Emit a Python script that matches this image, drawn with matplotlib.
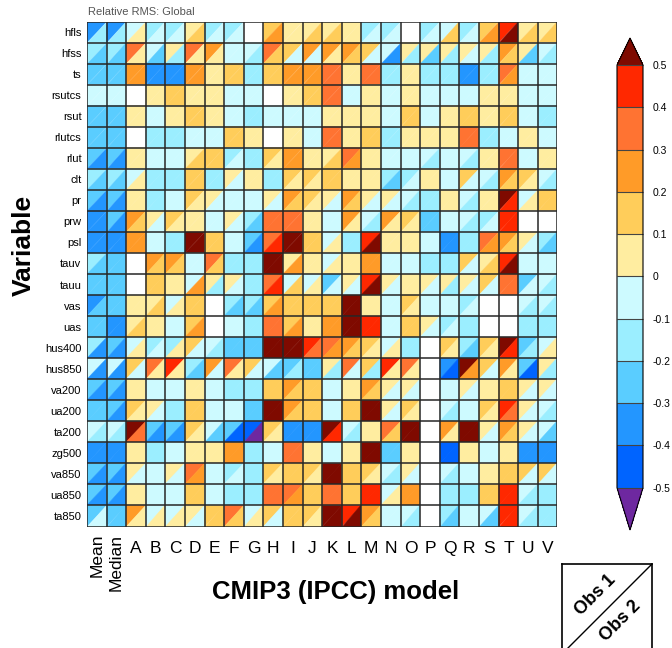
import numpy as np
import matplotlib
matplotlib.use('Agg')
import matplotlib.pyplot as plt
from matplotlib.collections import PolyCollection
from matplotlib.colors import ListedColormap, BoundaryNorm

# Fuente parecida a Helvetica/Arial
plt.rcParams['font.family'] = ['Liberation Sans', 'DejaVu Sans']

nan = np.nan

variables = ['hfls', 'hfss', 'ts', 'rsutcs', 'rsut', 'rlutcs', 'rlut', 'clt', 'pr', 'prw',
             'psl', 'tauv', 'tauu', 'vas', 'uas', 'hus400', 'hus850', 'va200', 'ua200',
             'ta200', 'zg500', 'va850', 'ua850', 'ta850']
modelos = ['Mean', 'Median', 'A', 'B', 'C', 'D', 'E', 'F', 'G', 'H', 'I', 'J', 'K', 'L',
           'M', 'N', 'O', 'P', 'Q', 'R', 'S', 'T', 'U', 'V']

niveles = [-0.5, -0.4, -0.3, -0.2, -0.1, 0.0, 0.1, 0.2, 0.3, 0.4, 0.5]
etiquetas_barra = ['-0.5', '-0.4', '-0.3', '-0.2', '-0.1', '0', '0.1', '0.2', '0.3', '0.4', '0.5']
colores = ['#0064ff', '#2396ff', '#5acdff', '#9beeff', '#cdfaff',
           '#ffeda0', '#ffcd5a', '#ff9b28', '#ff7332', '#ff2800']
color_bajo = '#6e28a0'
color_alto = '#7f0a00'

# Error RMS relativo, triangulo superior izquierdo (Obs 1)
obs1 = [
    [-0.35, -0.35, -0.05, -0.15, -0.15, 0.05, -0.15, -0.15, nan, 0.15, 0.05, 0.05, 0.05, 0.05, -0.15, -0.15, nan, -0.15, -0.05, -0.15, 0.15, 0.45, 0.05, 0.05],
    [-0.15, -0.15, 0.35, -0.05, 0.05, 0.35, 0.25, -0.05, -0.05, 0.35, 0.15, 0.25, 0.25, 0.25, 0.15, -0.05, 0.05, 0.05, 0.05, 0.05, 0.05, 0.25, 0.05, -0.05],
    [-0.25, -0.25, 0.25, -0.35, -0.35, 0.25, 0.05, 0.15, -0.15, 0.15, 0.25, 0.25, 0.35, 0.05, 0.35, -0.15, 0.05, -0.15, -0.15, -0.35, -0.15, 0.35, -0.05, -0.05],
    [-0.05, -0.05, nan, 0.05, 0.15, 0.05, 0.05, -0.05, -0.05, nan, 0.05, 0.15, 0.35, -0.05, 0.05, -0.05, 0.05, -0.05, -0.05, -0.05, 0.05, 0.05, -0.05, -0.05],
    [-0.25, -0.25, 0.05, -0.05, 0.05, 0.15, 0.05, -0.05, -0.15, -0.05, -0.05, -0.05, 0.05, 0.05, 0.05, -0.05, 0.15, -0.05, 0.05, 0.15, 0.05, 0.15, -0.05, -0.15],
    [-0.25, -0.25, nan, -0.15, -0.15, -0.05, -0.05, 0.15, 0.05, nan, 0.05, -0.05, 0.35, 0.05, 0.15, -0.15, 0.05, 0.05, 0.05, 0.35, -0.15, -0.05, 0.05, -0.05],
    [-0.25, -0.25, 0.05, -0.05, -0.05, 0.05, 0.15, -0.15, -0.15, 0.15, 0.25, 0.05, 0.05, 0.35, 0.05, -0.05, -0.05, -0.05, -0.05, -0.05, 0.05, 0.35, -0.05, 0.05],
    [-0.15, -0.15, -0.05, -0.15, -0.15, 0.15, -0.15, 0.05, 0.05, -0.15, 0.15, 0.15, 0.15, 0.05, 0.05, -0.15, -0.15, 0.05, -0.05, 0.15, -0.05, 0.25, 0.15, -0.05],
    [-0.25, -0.25, 0.05, -0.15, -0.05, 0.15, 0.05, -0.05, -0.05, 0.05, 0.25, 0.15, 0.05, 0.25, 0.05, 0.05, -0.05, -0.15, 0.05, -0.05, 0.05, 0.60, -0.05, 0.15],
    [-0.35, -0.25, 0.25, 0.05, 0.15, 0.05, -0.05, 0.05, -0.15, 0.35, 0.35, 0.05, -0.05, 0.25, -0.05, 0.25, 0.15, -0.25, -0.05, -0.05, -0.15, 0.45, nan, nan],
    [-0.35, -0.35, 0.25, -0.05, -0.15, 0.60, 0.15, -0.05, -0.25, 0.35, 0.60, 0.15, -0.05, -0.15, 0.45, 0.05, 0.05, -0.05, -0.35, -0.15, 0.35, 0.25, 0.05, -0.15],
    [-0.15, -0.25, nan, 0.25, 0.25, -0.05, 0.35, -0.15, -0.15, 0.60, 0.05, 0.05, -0.05, 0.05, 0.25, -0.05, -0.05, -0.15, -0.15, 0.15, 0.05, 0.45, -0.05, -0.05],
    [-0.25, -0.25, nan, 0.15, 0.05, -0.05, 0.05, 0.05, -0.15, 0.35, -0.05, -0.05, -0.25, 0.05, 0.45, 0.05, 0.05, 0.05, 0.05, 0.05, 0.15, 0.35, -0.25, -0.05],
    [-0.35, -0.25, 0.05, 0.05, -0.05, 0.15, nan, -0.15, -0.15, 0.15, 0.15, 0.15, 0.15, 0.60, 0.05, -0.05, 0.15, -0.05, -0.05, -0.15, nan, nan, -0.05, -0.05],
    [-0.25, -0.35, 0.05, 0.05, -0.05, 0.15, nan, -0.05, -0.15, 0.35, 0.15, 0.05, 0.25, 0.60, 0.45, -0.05, 0.15, 0.05, -0.15, -0.15, nan, nan, -0.15, -0.15],
    [-0.15, -0.25, -0.05, -0.15, -0.15, 0.15, -0.05, -0.25, -0.25, 0.60, 0.60, 0.45, 0.35, 0.25, 0.15, -0.05, -0.15, nan, 0.15, -0.15, 0.15, 0.60, -0.25, -0.05],
    [-0.05, -0.05, 0.15, 0.35, 0.45, -0.15, 0.25, 0.35, 0.15, -0.05, -0.25, -0.25, 0.05, 0.35, 0.15, 0.45, 0.35, nan, -0.35, 0.60, 0.15, 0.25, -0.25, 0.05],
    [-0.25, -0.25, 0.05, -0.05, -0.05, 0.05, -0.05, -0.15, -0.15, 0.15, 0.25, 0.15, -0.05, 0.05, 0.25, 0.05, 0.05, nan, -0.05, 0.05, 0.05, 0.15, 0.05, 0.05],
    [-0.25, -0.25, 0.15, 0.05, -0.15, 0.15, -0.05, -0.05, -0.25, 0.60, 0.25, 0.15, -0.05, 0.15, 0.60, 0.05, 0.15, nan, -0.05, -0.05, 0.15, 0.45, 0.05, -0.05],
    [-0.05, -0.05, 0.60, -0.25, -0.25, 0.15, -0.05, -0.25, -0.45, 0.15, -0.35, -0.35, 0.60, -0.05, 0.05, 0.35, 0.60, nan, 0.25, 0.60, 0.05, 0.25, 0.05, -0.05],
    [-0.35, -0.35, 0.05, -0.15, -0.05, 0.05, 0.05, 0.25, -0.15, -0.05, 0.35, 0.05, -0.05, 0.05, 0.60, -0.25, 0.05, nan, -0.45, 0.05, -0.05, 0.05, -0.35, -0.35],
    [-0.25, -0.25, 0.05, -0.05, 0.05, 0.35, -0.05, -0.15, -0.15, 0.15, 0.15, 0.15, 0.60, 0.15, 0.15, -0.05, 0.05, nan, -0.05, -0.05, 0.05, 0.15, 0.15, 0.15],
    [-0.25, -0.25, 0.05, -0.05, -0.05, 0.15, -0.05, -0.15, -0.15, 0.35, 0.35, 0.15, 0.35, 0.15, 0.45, -0.05, 0.25, nan, -0.15, -0.15, 0.15, 0.45, -0.05, -0.15],
    [-0.25, -0.25, 0.25, -0.05, -0.05, 0.05, 0.15, 0.35, -0.05, 0.15, 0.15, 0.15, 0.60, 0.45, 0.25, -0.05, -0.05, nan, -0.15, -0.05, -0.05, 0.45, -0.05, -0.15],
]

# Error RMS relativo, triangulo inferior derecho (Obs 2)
obs2 = [
    [-0.15, -0.15, 0.05, -0.05, -0.05, 0.15, -0.05, -0.05, nan, 0.25, 0.05, 0.15, 0.15, 0.05, -0.05, -0.05, nan, -0.05, 0.15, -0.05, 0.25, 0.60, 0.15, 0.15],
    [-0.25, -0.25, 0.05, -0.25, -0.15, 0.05, 0.05, -0.05, -0.15, 0.15, -0.05, -0.05, 0.05, 0.15, -0.05, -0.35, -0.15, -0.25, -0.15, -0.05, -0.15, 0.15, -0.25, -0.15],
    [-0.25, -0.25, 0.25, -0.35, -0.35, 0.25, 0.05, 0.15, -0.15, 0.15, 0.25, 0.25, 0.35, 0.05, 0.35, -0.15, 0.05, -0.15, -0.15, -0.35, -0.15, 0.25, -0.05, -0.05],
    [-0.05, -0.05, nan, 0.05, 0.15, 0.05, 0.05, -0.05, -0.05, nan, 0.05, 0.15, 0.35, -0.05, 0.05, -0.05, 0.05, -0.05, -0.05, -0.05, 0.05, 0.05, -0.05, -0.05],
    [-0.25, -0.25, 0.05, -0.05, 0.05, 0.15, 0.05, -0.05, -0.15, -0.05, -0.05, -0.05, 0.05, 0.05, 0.05, -0.05, 0.15, -0.05, 0.05, 0.15, 0.05, 0.15, -0.05, -0.15],
    [-0.25, -0.25, nan, -0.15, -0.15, -0.05, -0.05, 0.15, 0.05, nan, 0.05, -0.05, 0.35, 0.05, 0.15, -0.15, 0.05, 0.05, 0.05, 0.35, -0.15, -0.05, 0.05, -0.05],
    [-0.35, -0.35, 0.05, -0.05, -0.05, 0.15, 0.15, -0.05, -0.15, 0.05, 0.25, 0.05, 0.15, 0.25, 0.05, -0.05, -0.05, -0.15, -0.05, -0.15, 0.05, 0.35, -0.05, 0.05],
    [-0.25, -0.25, 0.05, -0.15, -0.15, 0.15, -0.15, -0.05, 0.05, -0.15, 0.05, 0.05, 0.15, 0.05, 0.05, -0.25, -0.05, 0.05, -0.05, -0.05, -0.15, 0.15, 0.05, -0.15],
    [-0.35, -0.35, 0.05, -0.15, -0.05, 0.05, -0.05, -0.05, -0.05, -0.05, 0.15, 0.05, -0.05, 0.15, -0.05, -0.05, -0.15, -0.15, 0.05, -0.15, 0.05, 0.45, 0.05, 0.15],
    [-0.35, -0.35, 0.15, -0.05, 0.05, 0.05, -0.05, -0.05, -0.25, 0.35, 0.35, 0.05, -0.05, 0.05, -0.15, 0.05, 0.05, -0.25, -0.05, -0.15, -0.05, 0.45, nan, nan],
    [-0.35, -0.35, 0.25, -0.05, -0.15, 0.60, 0.15, -0.05, -0.35, 0.45, 0.60, 0.15, 0.05, -0.15, 0.60, 0.05, 0.05, -0.05, -0.35, -0.15, 0.25, 0.15, -0.05, -0.25],
    [-0.25, -0.25, nan, 0.15, 0.15, -0.05, 0.15, -0.15, -0.15, 0.60, 0.25, 0.05, 0.05, 0.05, 0.25, -0.05, -0.05, -0.15, -0.15, -0.05, 0.15, 0.60, -0.05, -0.05],
    [-0.25, -0.25, nan, 0.15, 0.05, 0.25, -0.15, -0.05, -0.15, 0.45, 0.15, 0.05, -0.05, -0.05, 0.60, -0.05, 0.05, -0.05, -0.15, -0.05, -0.05, 0.35, -0.05, -0.15],
    [-0.25, -0.25, 0.05, 0.15, 0.05, 0.15, nan, -0.25, -0.25, 0.25, 0.15, 0.15, 0.15, 0.60, 0.05, -0.05, 0.05, -0.05, -0.05, -0.05, nan, nan, -0.15, -0.15],
    [-0.25, -0.35, 0.15, 0.05, -0.05, 0.25, nan, -0.05, -0.15, 0.35, 0.25, 0.05, 0.25, 0.60, 0.45, -0.05, 0.15, -0.05, -0.05, -0.15, nan, nan, -0.15, -0.15],
    [-0.35, -0.35, 0.05, -0.05, 0.05, -0.05, -0.15, -0.25, -0.25, 0.60, 0.60, 0.35, 0.25, 0.15, 0.05, 0.05, -0.15, nan, 0.05, -0.25, 0.05, 0.45, -0.15, 0.05],
    [-0.35, -0.35, -0.05, 0.05, 0.05, -0.25, -0.05, 0.05, -0.05, -0.25, -0.15, -0.25, -0.15, -0.05, -0.15, 0.05, 0.05, nan, -0.45, 0.25, -0.05, 0.05, -0.45, -0.15],
    [-0.35, -0.35, 0.05, -0.05, -0.05, 0.05, -0.05, -0.15, -0.15, 0.15, 0.15, 0.15, -0.05, 0.05, 0.15, -0.05, -0.05, nan, -0.05, -0.05, 0.05, 0.15, -0.05, -0.05],
    [-0.25, -0.35, 0.05, -0.05, -0.15, 0.15, -0.05, -0.05, -0.25, 0.60, 0.15, 0.15, -0.05, 0.15, 0.60, -0.05, 0.05, nan, -0.15, -0.05, 0.05, 0.35, -0.05, -0.15],
    [-0.15, -0.15, 0.35, -0.35, -0.35, 0.05, -0.25, -0.45, -0.60, 0.05, -0.35, -0.35, 0.45, -0.15, 0.05, 0.15, 0.60, nan, 0.05, 0.60, -0.05, 0.15, -0.05, -0.25],
    [-0.35, -0.35, 0.05, -0.15, -0.05, 0.05, 0.05, 0.25, -0.15, -0.05, 0.35, 0.05, -0.05, 0.05, 0.60, -0.25, 0.05, nan, -0.45, 0.05, -0.05, 0.05, -0.35, -0.35],
    [-0.35, -0.35, -0.05, -0.05, -0.05, 0.25, -0.05, -0.05, -0.15, 0.05, 0.15, 0.05, 0.60, 0.15, 0.05, -0.15, -0.05, nan, -0.15, -0.05, 0.05, 0.15, -0.05, -0.05],
    [-0.35, -0.35, 0.05, -0.05, -0.05, 0.15, -0.05, -0.15, -0.15, 0.35, 0.25, 0.15, 0.35, 0.15, 0.45, 0.05, 0.25, nan, -0.15, -0.15, 0.15, 0.45, -0.15, -0.15],
    [-0.05, -0.25, 0.05, 0.05, 0.05, -0.05, 0.15, 0.15, 0.05, -0.05, 0.15, 0.05, 0.60, 0.60, 0.15, -0.05, -0.15, nan, -0.25, -0.05, -0.25, 0.45, -0.15, -0.15],
]


def construir_triangulos(valores1, valores2):
    """
    Arma los dos triangulos de cada celda (diagonal de abajo-izquierda a arriba-derecha).
    :param valores1: matriz del triangulo superior izquierdo
    :param valores2: matriz del triangulo inferior derecho
    :return: lista de poligonos y arreglo de valores
    """
    poligonos = []
    valores = []
    for i in range(len(valores1)):
        for j in range(len(valores1[i])):
            poligonos.append([(j, i), (j + 1, i), (j, i + 1)])
            valores.append(valores1[i][j])
            poligonos.append([(j + 1, i), (j + 1, i + 1), (j, i + 1)])
            valores.append(valores2[i][j])
    return poligonos, np.ma.masked_invalid(np.array(valores))


def graficar():
    """
    Dibuja el diagrama tipo "portrait" con la barra de colores y la leyenda.
    """
    nfilas = len(variables)
    ncols = len(modelos)

    cmap = ListedColormap(colores)
    cmap.set_under(color_bajo)
    cmap.set_over(color_alto)
    cmap.set_bad('white')
    norm = BoundaryNorm(niveles, cmap.N)

    fig = plt.figure(figsize=(6.72, 6.48), dpi=100)
    ax = fig.add_axes([0.1295, 0.1875, 0.7001, 0.7793])

    poligonos, valores = construir_triangulos(obs1, obs2)
    coleccion = PolyCollection(poligonos, array=valores, cmap=cmap, norm=norm,
                               edgecolors='face', linewidths=0.3)
    ax.add_collection(coleccion)

    # Lineas de la grilla
    ax.hlines(np.arange(nfilas + 1), 0, ncols, color='#262626', linewidth=1.1)
    ax.vlines(np.arange(ncols + 1), 0, nfilas, color='#262626', linewidth=1.1)

    ax.set_xlim(0, ncols)
    ax.set_ylim(nfilas, 0)
    ax.set_xticks([])
    ax.set_yticks(np.arange(nfilas) + 0.5)
    ax.set_yticklabels(variables, fontsize=8)
    ax.tick_params(axis='y', length=0, pad=4)
    for lado in ax.spines.values():
        lado.set_visible(False)

    # Etiquetas de los modelos
    for j, nombre in enumerate(modelos):
        if j < 2:
            ax.text(j + 0.5, nfilas + 0.35, nombre, rotation=90, ha='center', va='top',
                    fontsize=12.5)
        else:
            ax.text(j + 0.5, nfilas + 0.7, nombre, ha='center', va='top', fontsize=12.5)

    ax.text(0.05, -0.2, 'Relative RMS: Global', ha='left', va='bottom', fontsize=8,
            color='#555555')
    fig.text(336 / 672, 1 - 592 / 648, 'CMIP3 (IPCC) model', ha='center', va='center',
             fontsize=18.5, fontweight='bold')
    fig.text(24 / 672, 1 - 245 / 648, 'Variable', ha='center', va='center', rotation=90,
             fontsize=19, fontweight='bold')

    # Barra de colores
    cax = fig.add_axes([617 / 672, 1 - 530 / 648, 26 / 672, 492 / 648])
    barra = fig.colorbar(coleccion, cax=cax, extend='both', extendfrac=[0.1, 0.064],
                         drawedges=True, ticks=niveles)
    barra.ax.set_yticklabels(etiquetas_barra)
    barra.ax.tick_params(length=0, labelsize=7.5, pad=7)
    barra.outline.set_linewidth(0.8)
    barra.dividers.set_color('#444444')
    barra.dividers.set_linewidth(0.8)

    # Leyenda de los triangulos
    lax = fig.add_axes([562 / 672, 1 - 654 / 648, 90 / 672, 90 / 648])
    lax.set_xlim(0, 1)
    lax.set_ylim(0, 1)
    lax.plot([0, 1], [0, 1], color='black', linewidth=1.0)
    lax.set_xticks([])
    lax.set_yticks([])
    for lado in lax.spines.values():
        lado.set_linewidth(1.2)
    lax.text(0.37, 0.65, 'Obs 1', rotation=45, ha='center', va='center', fontsize=13,
             fontweight='bold')
    lax.text(0.65, 0.36, 'Obs 2', rotation=45, ha='center', va='center', fontsize=13,
             fontweight='bold')

    fig.savefig('out.png', dpi=100)


def main():
    """
    Funcion principal.
    """
    graficar()


if __name__ == "__main__":
    main()
